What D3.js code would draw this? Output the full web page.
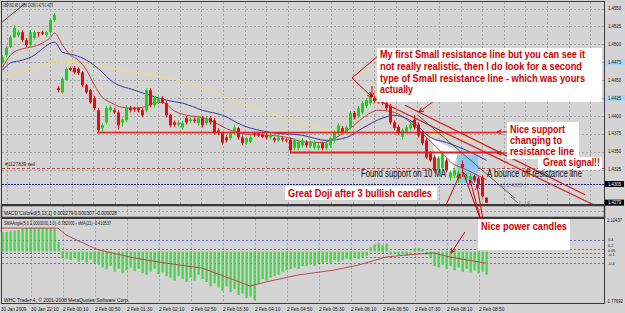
<!DOCTYPE html>
<html>
<head>
<meta charset="utf-8">
<script src="https://cdn.jsdelivr.net/npm/d3@7"></script>
<style>
body { margin: 0; background: #d4d4d4; }
svg { display: block; font-family: "Liberation Sans", Arial, sans-serif; }
</style>
</head>
<body>
<div id="chart"></div>
<script>
// GBPUSD M5 bars: open, high, low, close
var candles = [
  [1.4475,1.4485,1.4473,1.4482],[1.4485,1.4497,1.4482,1.4495],[1.4496,1.4513,1.4495,1.4510],[1.4510,1.4527,1.4509,1.4523],
  [1.4513,1.4520,1.4510,1.4517],[1.4517,1.4520,1.4503,1.4506],[1.4506,1.4509,1.4496,1.4499],[1.4499,1.4520,1.4496,1.4517],
  [1.4509,1.4519,1.4506,1.4517],[1.4517,1.4517,1.4510,1.4516],[1.4517,1.4519,1.4513,1.4515],[1.4513,1.4519,1.4510,1.4517],
  [1.4517,1.4537,1.4515,1.4534],[1.4534,1.4544,1.4531,1.4541],[1.4439,1.4442,1.4433,1.4436],[1.4433,1.4454,1.4431,1.4452],
  [1.4450,1.4468,1.4449,1.4466],[1.4467,1.4469,1.4463,1.4464],[1.4467,1.4470,1.4459,1.4461],[1.4466,1.4468,1.4457,1.4460],
  [1.4461,1.4463,1.4440,1.4443],[1.4443,1.4445,1.4431,1.4433],[1.4436,1.4438,1.4417,1.4419],[1.4425,1.4428,1.4408,1.4411],
  [1.4408,1.4411,1.4377,1.4380],[1.4383,1.4390,1.4376,1.4387],[1.4391,1.4414,1.4388,1.4411],[1.4408,1.4415,1.4405,1.4412],
  [1.4408,1.4411,1.4403,1.4405],[1.4405,1.4408,1.4381,1.4387],[1.4391,1.4398,1.4385,1.4395],[1.4394,1.4415,1.4391,1.4412],
  [1.4411,1.4414,1.4405,1.4408],[1.4411,1.4413,1.4406,1.4409],[1.4411,1.4412,1.4405,1.4408],[1.4408,1.4411,1.4398,1.4401],
  [1.4408,1.4439,1.4405,1.4436],[1.4436,1.4439,1.4412,1.4415],[1.4415,1.4428,1.4412,1.4425],[1.4419,1.4427,1.4417,1.4425],
  [1.4425,1.4428,1.4417,1.4419],[1.4418,1.4421,1.4398,1.4401],[1.4401,1.4403,1.4384,1.4387],[1.4391,1.4394,1.4385,1.4388],
  [1.4388,1.4394,1.4385,1.4391],[1.4384,1.4393,1.4381,1.4390],[1.4397,1.4400,1.4388,1.4391],[1.4393,1.4398,1.4390,1.4395],
  [1.4395,1.4398,1.4390,1.4393],[1.4390,1.4400,1.4386,1.4397],[1.4397,1.4400,1.4384,1.4387],[1.4390,1.4400,1.4387,1.4397],
  [1.4397,1.4400,1.4388,1.4391],[1.4394,1.4397,1.4374,1.4377],[1.4380,1.4383,1.4373,1.4376],[1.4376,1.4378,1.4360,1.4363],
  [1.4370,1.4373,1.4363,1.4366],[1.4369,1.4378,1.4366,1.4376],[1.4376,1.4388,1.4373,1.4384],[1.4383,1.4385,1.4367,1.4370],
  [1.4370,1.4373,1.4359,1.4362],[1.4363,1.4371,1.4360,1.4369],[1.4364,1.4373,1.4362,1.4370],[1.4376,1.4378,1.4371,1.4374],
  [1.4376,1.4378,1.4371,1.4373],[1.4374,1.4376,1.4369,1.4371],[1.4373,1.4376,1.4367,1.4370],[1.4370,1.4376,1.4367,1.4373],
  [1.4369,1.4371,1.4363,1.4366],[1.4366,1.4373,1.4364,1.4370],[1.4369,1.4371,1.4364,1.4367],[1.4367,1.4369,1.4363,1.4366],
  [1.4367,1.4370,1.4348,1.4352],[1.4355,1.4369,1.4352,1.4366],[1.4355,1.4367,1.4352,1.4364],[1.4359,1.4369,1.4356,1.4366],
  [1.4363,1.4366,1.4356,1.4359],[1.4358,1.4366,1.4355,1.4363],[1.4356,1.4366,1.4353,1.4363],[1.4355,1.4362,1.4352,1.4359],
  [1.4362,1.4364,1.4352,1.4355],[1.4355,1.4364,1.4352,1.4362],[1.4359,1.4371,1.4356,1.4369],[1.4366,1.4380,1.4363,1.4377],
  [1.4376,1.4390,1.4373,1.4387],[1.4383,1.4386,1.4376,1.4378],[1.4378,1.4387,1.4376,1.4384],[1.4384,1.4407,1.4381,1.4404],
  [1.4404,1.4407,1.4395,1.4398],[1.4400,1.4414,1.4397,1.4411],[1.4405,1.4421,1.4403,1.4418],[1.4414,1.4425,1.4411,1.4422],
  [1.4418,1.4433,1.4415,1.4427],[1.4425,1.4428,1.4418,1.4421],[1.4422,1.4425,1.4417,1.4419],[1.4421,1.4424,1.4415,1.4418],
  [1.4418,1.4421,1.4408,1.4411],[1.4414,1.4417,1.4388,1.4391],[1.4391,1.4394,1.4380,1.4383],[1.4385,1.4388,1.4373,1.4376],
  [1.4371,1.4383,1.4367,1.4380],[1.4378,1.4387,1.4376,1.4384],[1.4383,1.4391,1.4380,1.4388],[1.4395,1.4401,1.4381,1.4384],
  [1.4388,1.4391,1.4370,1.4373],[1.4377,1.4380,1.4359,1.4362],[1.4366,1.4369,1.4340,1.4342],[1.4348,1.4351,1.4336,1.4338],
  [1.4342,1.4345,1.4321,1.4324],[1.4324,1.4344,1.4321,1.4341],[1.4327,1.4351,1.4324,1.4348],[1.4338,1.4341,1.4321,1.4324],
  [1.4314,1.4324,1.4310,1.4321],[1.4317,1.4327,1.4313,1.4324],[1.4313,1.4324,1.4306,1.4321],[1.4333,1.4338,1.4321,1.4328],
  [1.4313,1.4320,1.4310,1.4317],[1.4310,1.4320,1.4307,1.4316],[1.4316,1.4318,1.4307,1.4310],[1.4313,1.4316,1.4302,1.4304],
  [1.4314,1.4317,1.4286,1.4288],[1.4286,1.4286,1.4279,1.4279]
];

// moving averages: [bar, price]
var redMA = [[0,1.4468],[2,1.4485],[5,1.4494],[7,1.4496],[10,1.4502],[12,1.4510],[13,1.4516],[15,1.4499],[17,1.4485],
  [19,1.4478],[21,1.4464],[23,1.4443],[25,1.4426],[27,1.4419],[30,1.4412],[33,1.4411],[35,1.4412],[38,1.4418],[40,1.4419],
  [43,1.4407],[46,1.4401],[50,1.4398],[53,1.4391],[57,1.4380],[62,1.4374],[67,1.4373],[72,1.4369],[75,1.4364],[80,1.4363],
  [83,1.4369],[87,1.4383],[90,1.4397],[94,1.4408],[98,1.4405],[102,1.4391],[106,1.4370],[110,1.4348],[112,1.4336],
  [116,1.4325],[121,1.4311]];
var blueMA = [[0,1.4464],[2,1.4474],[5,1.4478],[8,1.4485],[10,1.4494],[13,1.4503],[15,1.4489],[18,1.4485],[21,1.4478],
  [25,1.4461],[27,1.4450],[33,1.4436],[38,1.4427],[41,1.4422],[45,1.4418],[50,1.4408],[55,1.4401],[60,1.4387],[67,1.4377],
  [75,1.4373],[81,1.4366],[86,1.4370],[90,1.4383],[95,1.4397],[98,1.4401],[103,1.4390],[107,1.4370],[111,1.4363],
  [116,1.4352],[121,1.4338]];
var yellowMA = [[0,1.4453],[4,1.4461],[8,1.4468],[13,1.4475],[16,1.4475],[24,1.4470],[33,1.4461],[41,1.4454],[52,1.4436],
  [59,1.4419],[66,1.4405],[77,1.4387],[86,1.4378],[104,1.4376],[114,1.4369],[121,1.4363]];

// SMAAngle histogram, one value per bar, and its sMA(21)
var smaHist = [0.67,0.68,0.7,0.72,0.75,
  0.8,0.82,0.8,0.81,0.8,0.82,0.81,0.8,0.78, 0.33, -0.2,
  -0.25,-0.3,-0.2,-0.35,-0.3,-0.38,-0.28,-0.4,-0.45,
  -0.55,-0.62,-0.5,-0.7,-0.6,-0.75,-0.65,-0.55,-0.68,
  -0.6,-0.75,-0.8,-0.7,-0.6,-0.78,-0.72,-0.85,
  -0.9,-1.0,-0.85,-0.95,-1.05,-0.9,-1.0,-0.8,-0.95,
  -1.05,-1.2,-1.1,-1.25,-1.35,-1.2,-1.4,-1.3,-1.5,-1.45,-1.6,-1.55,-1.67,
  -1.1,-0.95,-1.0,-0.9,-0.85,-0.8,-0.7,-0.65,
  -0.6,-0.55,-0.6,-0.5,-0.5,-0.45,-0.5,-0.4,
  -0.4,-0.35,-0.4,-0.3,-0.35,-0.3,-0.25,-0.3,-0.2,-0.25,-0.2,-0.15,
  0.15,0.25,0.3,0.22,0.28,
  -0.1,-0.05,-0.12,-0.08,-0.15,-0.1,
  0.1,0.12,0.05, -0.1,-0.2,
  -0.5,-0.55,-0.45,-0.6,-0.5,-0.65,-0.55,-0.7,-0.6,-0.72,-0.65,-0.75,-0.7,-0.8];
var smaSignal = [[0,0.81],[14,0.81],[16,0.57],[24,0.06],[33,-0.22],[41,-0.40],[50,-0.57],[58,-0.98],[62,-1.19],
  [66,-1.05],[74,-0.81],[83,-0.64],[89,-0.47],[96,-0.19],[101,-0.12],[108,-0.05],[112,-0.19],[121,-0.40]];

var timeLabels = ['30 Jan 2009','30 Jan 22:10','2 Feb 00:10','2 Feb 00:50','2 Feb 01:30','2 Feb 02:10','2 Feb 02:50',
  '2 Feb 03:30','2 Feb 04:10','2 Feb 04:50','2 Feb 05:30','2 Feb 06:10','2 Feb 06:50','2 Feb 07:30','2 Feb 08:10','2 Feb 08:50'];
var priceTicks = [1.4550,1.4525,1.4500,1.4475,1.4450,1.4425,1.4400,1.4375,1.4350,1.4325];
var smaLevels = [0.4,0.2,0.05,-0.1,-0.4];

// drawn objects: [bar, price]
var supportLine = [[23.75,1.4377],[123.75,1.4377]];
var resistLine = [[72,1.4349],[123.75,1.4349]];
var trendA = [[93.25,1.4424],[149,1.4273]];
var trendB = [[100.75,1.4415],[145.75,1.4290]];
var bounceLine = [[104,1.4401],[128.25,1.4285]];
var cornerLine = [[0,1.4531],[5.75,1.4557]];
var sellPrice = 1.4327, slPrice = 1.4305, lastPrice = 1.4279;

var width = 625, height = 313;
var red = '#cc0000';

var svg = d3.select('#chart').append('svg')
    .attr('width', width)
    .attr('height', height);

svg.append('rect').attr('width', width).attr('height', height).attr('fill', '#d4d4d4');

var x = d3.scaleLinear().domain([0, 121]).range([2, 486]);
var y = d3.scaleLinear().domain([1.42771, 1.45592]).range([204, 2]);
var ys = d3.scaleLinear().domain([-1.77692, 1.12437]).range([303, 219]);

svg.append('clipPath').attr('id', 'mainclip')
  .append('rect').attr('x', 2).attr('y', 2).attr('width', 602).attr('height', 202);

// grid of main window
var grid = svg.append('g').attr('stroke', '#a4a4a4').attr('stroke-dasharray', '2,2');
priceTicks.forEach(function(p) {
  grid.append('line').attr('x1', 2).attr('x2', 604)
    .attr('y1', Math.round(y(p)) + 0.5).attr('y2', Math.round(y(p)) + 0.5);
});
for (var gx = 7; gx < 604; gx += 21.6) {
  grid.append('line').attr('x1', Math.round(gx) + 0.5).attr('x2', Math.round(gx) + 0.5).attr('y1', 2).attr('y2', 204);
}
// grid of sub windows (at time labels)
timeLabels.forEach(function(t, k) {
  var gx2 = Math.round(x(8 * k) - 3) + 0.5;
  if (gx2 < 2) return;
  grid.append('line').attr('x1', gx2).attr('x2', gx2).attr('y1', 205).attr('y2', 217);
  grid.append('line').attr('x1', gx2).attr('x2', gx2).attr('y1', 219).attr('y2', 303);
});
grid.append('line').attr('x1', 2).attr('x2', 604).attr('y1', 211.5).attr('y2', 211.5);

// SMA level lines
var lev = svg.append('g').attr('stroke', '#6a6ac8').attr('stroke-dasharray', '2,2');
[0.4, 0.1, -0.05, -0.2, -0.4].forEach(function(v) {
  lev.append('line').attr('x1', 2).attr('x2', 604)
    .attr('y1', Math.round(ys(v)) + 0.5).attr('y2', Math.round(ys(v)) + 0.5);
});

var main = svg.append('g').attr('clip-path', 'url(#mainclip)');

// order and stop lines
main.append('line').attr('x1', 2).attr('x2', 604)
  .attr('y1', Math.round(y(sellPrice)) + 0.5).attr('y2', Math.round(y(sellPrice)) + 0.5)
  .attr('stroke', '#c04848').attr('stroke-dasharray', '3,2');
main.append('line').attr('x1', 2).attr('x2', 604)
  .attr('y1', Math.round(y(slPrice)) + 0.5).attr('y2', Math.round(y(slPrice)) + 0.5)
  .attr('stroke', '#1a1a80').attr('stroke-dasharray', '2,1');

// highlight shapes behind the bars
main.append('path')
  .attr('d', 'M430,137 L458,152 L452,172 L440,170 Z')
  .attr('fill', '#ffffff');
main.append('rect')
  .attr('x', x(113.75)).attr('y', y(1.4345))
  .attr('width', x(119) - x(113.75)).attr('height', y(1.4307) - y(1.4345))
  .attr('fill', '#8cc8ee');

// moving averages
var ma = d3.line().x(function(d) { return x(d[0]) + 0.5; }).y(function(d) { return y(d[1]); }).curve(d3.curveMonotoneX);
main.append('path').attr('d', ma(yellowMA)).attr('fill', 'none').attr('stroke', '#e8e27c');
main.append('path').attr('d', ma(blueMA)).attr('fill', 'none').attr('stroke', '#3434a8');
main.append('path').attr('d', ma(redMA)).attr('fill', 'none').attr('stroke', '#c23a3a');

// candles
var up = '#22cc22', down = '#dd1111';
main.selectAll('line.wick')
  .data(candles)
  .enter().append('line')
  .attr('class', 'wick')
  .attr('x1', function(d, i) { return x(i) + 0.5; })
  .attr('x2', function(d, i) { return x(i) + 0.5; })
  .attr('y1', function(d) { return y(d[1]); })
  .attr('y2', function(d) { return y(d[2]); })
  .attr('stroke', function(d) { return d[3] >= d[0] ? up : down; });
main.selectAll('rect.body')
  .data(candles)
  .enter().append('rect')
  .attr('class', 'body')
  .attr('x', function(d, i) { return x(i) - 1; })
  .attr('width', 3)
  .attr('y', function(d) { return y(Math.max(d[0], d[3])); })
  .attr('height', function(d) { return Math.max(1, Math.abs(y(d[0]) - y(d[3]))); })
  .attr('fill', function(d) { return d[3] >= d[0] ? up : down; });

// drawn lines
var seg = d3.line().x(function(d) { return x(d[0]); }).y(function(d) { return y(d[1]); });
main.append('path').attr('d', seg(supportLine)).attr('stroke', '#e02020').attr('stroke-width', 1.6);
main.append('path').attr('d', seg(resistLine)).attr('stroke', '#e02020').attr('stroke-width', 2);
main.append('path').attr('d', seg(trendA)).attr('stroke', '#d42020').attr('stroke-width', 1.2);
main.append('path').attr('d', seg(trendB)).attr('stroke', '#d42020').attr('stroke-width', 1.2);
main.append('path').attr('d', seg(bounceLine)).attr('stroke', '#404040').attr('stroke-width', 0.8);
main.append('path').attr('d', seg(cornerLine)).attr('stroke', '#222').attr('stroke-width', 0.8);

// frames
var frame = svg.append('g').attr('fill', 'none').attr('stroke', '#3a3a3a');
frame.append('rect').attr('x', 1.5).attr('y', 1.5).attr('width', 603).attr('height', 203);
frame.append('rect').attr('x', 1.5).attr('y', 205.5).attr('width', 603).attr('height', 12).attr('stroke-width', 1.5);
frame.append('rect').attr('x', 1.5).attr('y', 218.5).attr('width', 603).attr('height', 85);

// SMAAngle histogram and signal
svg.append('g').selectAll('rect')
  .data(smaHist)
  .enter().append('rect')
  .attr('x', function(d, i) { return x(i) - 0.5; })
  .attr('width', 2.2)
  .attr('y', function(d) { return ys(Math.max(0, d)); })
  .attr('height', function(d) { return Math.abs(ys(d) - ys(0)); })
  .attr('fill', '#4ccf4c');
svg.append('path')
  .attr('d', d3.line().x(function(d) { return x(d[0]); }).y(function(d) { return ys(d[1]); })(smaSignal))
  .attr('fill', 'none').attr('stroke', '#b83c3c').attr('stroke-width', 0.9);

// text helper
function label(txt, x0, yb, size, weight, color, len) {
  var t = svg.append('text').attr('x', x0).attr('y', yb)
    .attr('font-size', size).attr('font-weight', weight).attr('fill', color).text(txt);
  if (len) t.attr('textLength', len).attr('lengthAdjust', 'spacingAndGlyphs');
  return t;
}

// right price axis
priceTicks.forEach(function(p) {
  var yy = y(p);
  if (p === 1.4475 || p === 1.4425) {
    svg.append('rect').attr('x', 606).attr('y', yy - 3).attr('width', 19).attr('height', 6).attr('fill', '#a8d8f0');
  }
  label(p.toFixed(4), 608, yy + 1.6, 4.6, 'normal', '#111', 13);
});
[[slPrice, '1.4305'], [lastPrice, '1.4279']].forEach(function(d) {
  svg.append('rect').attr('x', 605).attr('y', y(d[0]) - 3).attr('width', 19).attr('height', 6).attr('fill', '#000');
  label(d[1], 608, y(d[0]) + 1.8, 4.6, 'normal', '#fff', 13);
});
label('1.12437', 607, 222, 4.6, 'normal', '#111', 15);
label('-1.77692', 606, 302.5, 4.6, 'normal', '#111', 17);
smaLevels.forEach(function(v) {
  label(String(v), 608, ys(v) + 1.4, 3.8, 'normal', '#111');
});

// time axis
timeLabels.forEach(function(t, k) {
  label(t, Math.max(1, x(8 * k) - 3), 311, 5, 'normal', '#111', t.length * 2.3);
});

// small window captions
label('GBPUSD,M5 1.4286 1.4286 1.4279 1.4279', 3, 7, 5.5, 'normal', '#111', 50);
label('#1127839 sell', 5, 166, 4.6, 'normal', '#222', 30);
label('MACD Colored(5,13,1) 0.000279 0.000307 -0.000028', 4, 214.5, 4.6, 'normal', '#111', 113);
label('SMAAngle(5,0.2,0000000,3,0) -0.782000  \u25AB sMA(21) -0.410537', 4, 225, 4.6, 'normal', '#111', 107);
label('WHC Trader 4, \u00A9 2001-2008 MetaQuotes Software Corp.', 4, 301.5, 4.6, 'normal', '#111', 125);
label('sl: 1.4305', 500, 186.5, 4.6, 'normal', '#777', 22);
label('1.15', 518, 206.5, 9, 'normal', '#888', 13);
svg.append('line').attr('x1', 511).attr('y1', 197).attr('x2', 518).attr('y2', 203).attr('stroke', '#555').attr('stroke-width', 0.8);

// callout arrows
var arrowG = svg.append('g').attr('stroke', red).attr('fill', 'none').attr('stroke-width', 1);
function arrow(pts) {
  arrowG.append('path').attr('d', d3.line()(pts));
  var a = pts[pts.length - 2], b = pts[pts.length - 1];
  var ang = Math.atan2(b[1] - a[1], b[0] - a[0]);
  var h1 = [b[0] - 5 * Math.cos(ang - 0.45), b[1] - 5 * Math.sin(ang - 0.45)];
  var h2 = [b[0] - 5 * Math.cos(ang + 0.45), b[1] - 5 * Math.sin(ang + 0.45)];
  arrowG.append('path').attr('d', d3.line()([h1, b, h2]));
}
arrow([[379, 55], [352, 78], [372, 97]]);
arrow([[372, 86], [372, 97]]);
arrow([[460, 82], [419, 112]]);
arrow([[508, 132], [497, 132]]);
arrow([[508, 153], [497, 153]]);
arrow([[481, 221], [463, 172]]);
arrow([[481, 221], [470, 180]]);
arrow([[483, 220], [477, 185]]);
arrow([[446, 205], [460, 174]]);
arrow([[465, 232], [451, 253]]);

// white note boxes
[[377, 48, 225, 54], [507, 122, 72, 37], [538, 157, 64, 13], [285, 186, 152, 14], [478, 219, 92, 31]].forEach(function(b) {
  svg.append('rect').attr('x', b[0]).attr('y', b[1]).attr('width', b[2]).attr('height', b[3]).attr('fill', '#fff');
});

// notes
label('My first Small resistance line but you can see it', 380, 57.5, 10, 'bold', red, 205);
label('not really realistic, then I do look for a second', 380, 69.5, 10, 'bold', red, 202);
label('type of Small resistance line - which was yours', 380, 81.5, 10, 'bold', red, 205);
label('actually', 380, 92.5, 10, 'bold', red, 33);
label('Nice support', 510, 133, 10, 'bold', red, 55);
label('changing to', 510, 143.5, 10, 'bold', red, 52);
label('resistance line', 510, 155, 10, 'bold', red, 64);
label('Great signal!!', 543, 166, 10, 'bold', red, 57);
label('Great Doji after 3 bullish candles', 288, 197, 10, 'bold', red, 144);
label('Nice power candles', 481, 229.5, 10, 'bold', red, 86);
label('Found support on 10 MA', 361, 176.5, 10, 'normal', '#111', 85);
label('A bounce off resistance line', 487, 177, 10, 'normal', '#111', 95);
</script>
</body>
</html>
